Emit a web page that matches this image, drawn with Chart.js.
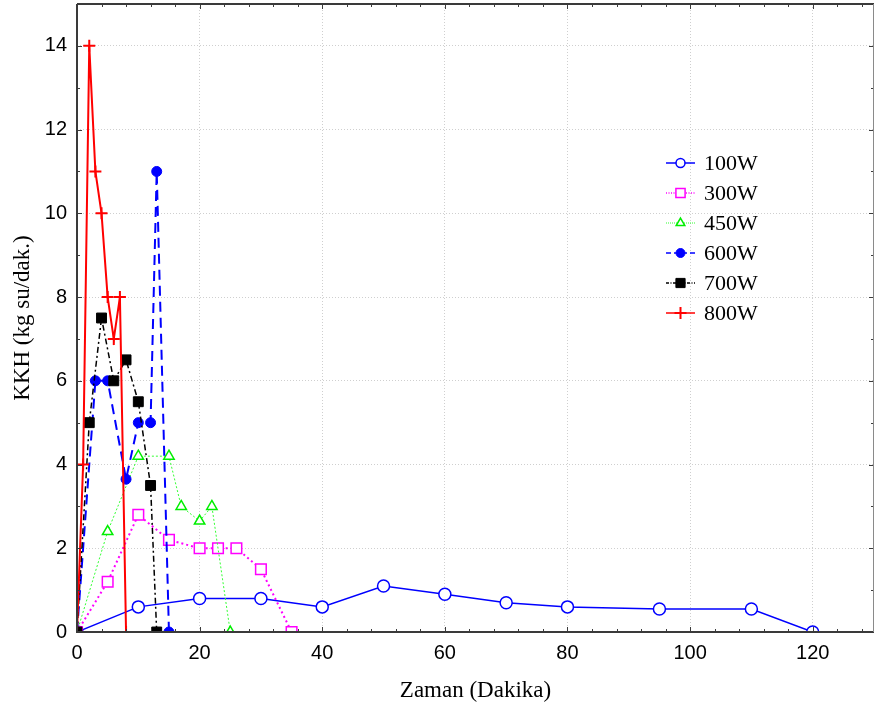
<!DOCTYPE html>
<html>
<head>
<meta charset="utf-8">
<script src="https://cdn.jsdelivr.net/npm/chart.js@4/dist/chart.umd.min.js"></script>
<style>
    html, body { margin: 0; padding: 0; background: #fff; }
    #wrap { width: 875px; height: 711px; }
</style>
</head>
<body>
<div id="wrap"><canvas id="kkhChart" width="875" height="711"></canvas></div>
<script>
// Drying rate (KKH) against time for each microwave power level
const times100 = [0, 10, 20, 30, 40, 50, 60, 70, 80, 95, 110, 120];
const kkh100 = [0, 0.6, 0.8, 0.8, 0.6, 1.1, 0.9, 0.7, 0.6, 0.55, 0.55, 0];

const times300 = [0, 5, 10, 15, 20, 23, 26, 30, 35];
const kkh300 = [0, 1.2, 2.8, 2.2, 2, 2, 2, 1.5, 0];

const times450 = [0, 5, 10, 15, 17, 20, 22, 25];
const kkh450 = [0, 2.4, 4.2, 4.2, 3, 2.65, 3, 0];

const times600 = [0, 3, 5, 8, 10, 12, 13, 15];
const kkh600 = [0, 6, 6, 3.65, 5, 5, 11, 0];

const times700 = [0, 2, 4, 6, 8, 10, 12, 13];
const kkh700 = [0, 5, 7.5, 6, 6.5, 5.5, 3.5, 0];

const times800 = [0, 1, 2, 3, 4, 5, 6, 7, 8];
const kkh800 = [0, 4, 14, 11, 10, 8, 7, 8, 0];

const seriesNames = ['100W', '300W', '450W', '600W', '700W', '800W'];

const xTitle = 'Zaman (Dakika)';
const yTitle = 'KKH (kg su/dak.)';

const toPoints = (xs, ys) => xs.map((x, i) => ({ x: x, y: ys[i] }));

const datasets = [
    {
        label: seriesNames[0],
        data: toPoints(times100, kkh100),
        borderColor: '#0000ff',
        borderWidth: 1.5,
        pointStyle: 'circle',
        pointRadius: 6,
        legendRadius: 4.5,
        pointBackgroundColor: '#ffffff',
        pointBorderColor: '#0000ff',
        pointBorderWidth: 1.5,
        order: 5
    },
    {
        label: seriesNames[1],
        data: toPoints(times300, kkh300),
        borderColor: '#ff00ff',
        borderWidth: 2,
        borderDash: [2, 3],
        pointStyle: 'rect',
        pointRadius: 7.5,
        legendRadius: 6.5,
        pointBackgroundColor: '#ffffff',
        pointBorderColor: '#ff00ff',
        pointBorderWidth: 1.5,
        order: 4
    },
    {
        label: seriesNames[2],
        data: toPoints(times450, kkh450),
        borderColor: '#33ff33',
        borderWidth: 1,
        borderDash: [2, 2],
        pointStyle: 'triangle',
        pointRadius: 6,
        legendRadius: 5,
        pointBackgroundColor: '#ffffff',
        pointBorderColor: '#00ee00',
        pointBorderWidth: 1.5,
        order: 3
    },
    {
        label: seriesNames[3],
        data: toPoints(times600, kkh600),
        borderColor: '#0000ff',
        borderWidth: 2,
        borderDash: [10, 6],
        pointStyle: 'circle',
        pointRadius: 5,
        legendRadius: 4.5,
        pointBackgroundColor: '#0000ff',
        pointBorderColor: '#0000ff',
        pointBorderWidth: 1,
        order: 2
    },
    {
        label: seriesNames[4],
        data: toPoints(times700, kkh700),
        borderColor: '#000000',
        borderWidth: 1.5,
        borderDash: [6, 3, 2, 3],
        pointStyle: 'rect',
        pointRadius: 7,
        legendRadius: 6.5,
        pointBackgroundColor: '#000000',
        pointBorderColor: '#000000',
        pointBorderWidth: 1,
        order: 1
    },
    {
        label: seriesNames[5],
        data: toPoints(times800, kkh800),
        borderColor: '#ff0000',
        borderWidth: 2,
        pointStyle: 'cross',
        pointRadius: 6,
        legendRadius: 6,
        pointBackgroundColor: '#ff0000',
        pointBorderColor: '#ff0000',
        pointBorderWidth: 2,
        order: 0
    }
];

datasets.forEach((d) => {
    d.fill = false;
    d.tension = 0;
    d.clip = 0;
    d.pointHoverRadius = d.pointRadius;
});

// Frame round the plot area plus inward major/minor tick marks on all sides
const framePlugin = {
    id: 'frame',
    afterDraw(chart) {
        const { ctx, chartArea: a, scales: { x, y } } = chart;
        ctx.save();

        ctx.strokeStyle = '#3c3c3c';
        ctx.lineWidth = 1;
        const tick = (x1, y1, x2, y2) => {
            ctx.beginPath();
            ctx.moveTo(x1, y1);
            ctx.lineTo(x2, y2);
            ctx.stroke();
        };
        for (let v = 0; v <= 130; v += 4) {
            const px = Math.round(x.getPixelForValue(v)) + 0.5;
            const len = v % 20 === 0 ? 5 : 3;
            tick(px, a.bottom, px, a.bottom - len);
            tick(px, a.top, px, a.top + len);
        }
        for (let v = 0; v <= 15; v += 1) {
            const py = Math.round(y.getPixelForValue(v)) + 0.5;
            const len = v % 2 === 0 ? 5 : 3;
            tick(a.left, py, a.left + len, py);
            tick(a.right, py, a.right - len, py);
        }

        ctx.strokeStyle = '#3a3a3a';
        ctx.lineWidth = 2;
        tick(a.left, a.top, a.left, a.bottom + 1);
        tick(a.left - 1, a.bottom, a.right, a.bottom);
        tick(a.left, a.top, a.right, a.top);
        ctx.strokeStyle = '#8a8a8a';
        ctx.lineWidth = 1;
        tick(a.right - 0.5, a.top, a.right - 0.5, a.bottom);
        ctx.restore();
    }
};

// Legend: line sample with marker, then the series name
const legendPlugin = {
    id: 'lineLegend',
    afterDraw(chart) {
        const { ctx } = chart;
        const x0 = 666, x1 = 695, textX = 704, top = 163, step = 30;
        ctx.save();
        chart.data.datasets.forEach((d, i) => {
            const cy = top + i * step;
            ctx.strokeStyle = d.borderColor;
            ctx.lineWidth = Math.min(d.borderWidth, 1.5);
            ctx.setLineDash(d.borderDash ? d.borderDash.map((n) => Math.max(1, n / 2)) : []);
            ctx.beginPath();
            ctx.moveTo(x0, cy);
            ctx.lineTo(x1, cy);
            ctx.stroke();
            ctx.setLineDash([]);

            ctx.fillStyle = d.pointBackgroundColor;
            ctx.strokeStyle = d.pointBorderColor;
            ctx.lineWidth = d.pointBorderWidth;
            Chart.helpers.drawPoint(ctx, {
                pointStyle: d.pointStyle,
                radius: d.legendRadius,
                rotation: 0,
                borderWidth: d.pointBorderWidth
            }, (x0 + x1) / 2, cy);

            ctx.fillStyle = '#000000';
            ctx.font = '22px "Liberation Serif"';
            ctx.textBaseline = 'middle';
            ctx.textAlign = 'left';
            ctx.fillText(d.label, textX, cy + 1);
        });
        ctx.restore();
    }
};

const noEdgePadding = (s) => {
    s.paddingTop = 0;
    s.paddingBottom = 0;
    s.paddingLeft = 0;
    s.paddingRight = 0;
};

new Chart(document.getElementById('kkhChart'), {
    type: 'line',
    data: { datasets: datasets },
    options: {
        responsive: false,
        animation: false,
        events: [],
        layout: { autoPadding: false, padding: { left: 0, top: 4, right: 1, bottom: 0 } },
        plugins: {
            legend: { display: false },
            tooltip: { enabled: false }
        },
        scales: {
            x: {
                type: 'linear',
                min: 0,
                max: 130,
                afterFit: (s) => { s.height = 79; noEdgePadding(s); },
                afterBuildTicks: (s) => { s.ticks = s.ticks.filter((t) => t.value % 20 === 0); },
                grid: { color: '#cfcfcf', lineWidth: 1, drawTicks: false },
                border: { display: false, dash: [1, 2] },
                ticks: {
                    stepSize: 20,
                    padding: 9,
                    color: '#000000',
                    font: { family: '"Liberation Sans"', size: 20 }
                },
                title: {
                    display: true,
                    text: xTitle,
                    color: '#000000',
                    padding: { top: 0, bottom: 6 },
                    font: { family: '"Liberation Serif"', size: 23 }
                }
            },
            y: {
                type: 'linear',
                min: 0,
                max: 15,
                afterFit: (s) => { s.width = 77; noEdgePadding(s); },
                afterBuildTicks: (s) => { s.ticks = s.ticks.filter((t) => t.value % 2 === 0); },
                grid: { color: '#cfcfcf', lineWidth: 1, drawTicks: false },
                border: { display: false, dash: [1, 2] },
                ticks: {
                    stepSize: 2,
                    padding: 10,
                    color: '#000000',
                    font: { family: '"Liberation Sans"', size: 20 }
                },
                title: {
                    display: true,
                    text: yTitle,
                    color: '#000000',
                    padding: { top: 9, bottom: 0 },
                    font: { family: '"Liberation Serif"', size: 23 }
                }
            }
        }
    },
    plugins: [framePlugin, legendPlugin]
});
</script>
</body>
</html>
